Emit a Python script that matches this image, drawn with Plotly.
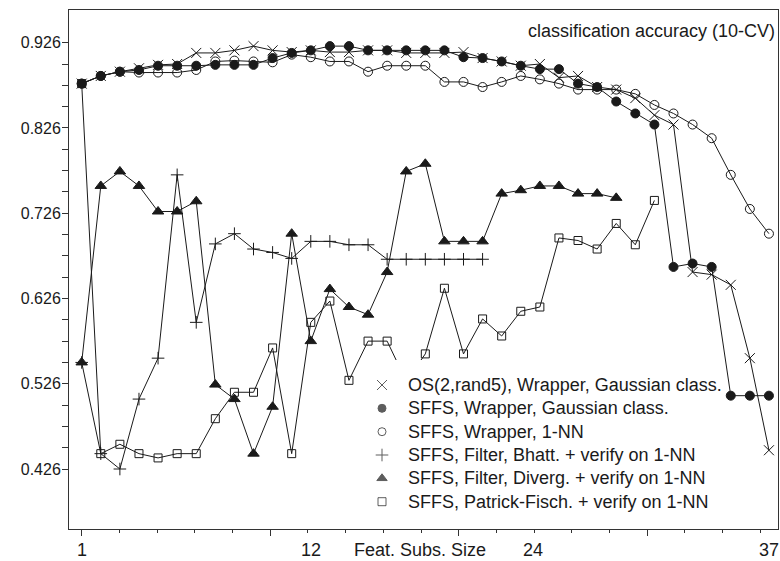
import plotly.graph_objects as go

# ---------------- data ----------------
feat_sizes = list(range(1, 38))

os_wrapper_gauss = [0.878, 0.887, 0.892, 0.896, 0.900, 0.901, 0.914, 0.914, 0.917, 0.922,
                    0.917, 0.915, 0.917, 0.915, 0.915, 0.917, 0.917, 0.914, 0.914, 0.914,
                    0.915, 0.908, 0.904, 0.899, 0.901, 0.885, 0.887, 0.874, 0.871, 0.861,
                    0.841, 0.830, 0.657, 0.654, 0.642, 0.556, 0.448]
sffs_wrapper_gauss = [0.878, 0.887, 0.892, 0.894, 0.899, 0.899, 0.899, 0.900, 0.900, 0.900,
                      0.908, 0.914, 0.917, 0.922, 0.922, 0.917, 0.917, 0.917, 0.917, 0.917,
                      0.909, 0.908, 0.904, 0.899, 0.895, 0.895, 0.878, 0.874, 0.857, 0.843,
                      0.830, 0.663, 0.667, 0.663, 0.512, 0.512, 0.512]
sffs_wrapper_1nn = [0.878, 0.887, 0.892, 0.891, 0.891, 0.891, 0.894, 0.904, 0.905, 0.904,
                    0.903, 0.912, 0.909, 0.904, 0.904, 0.892, 0.899, 0.899, 0.899, 0.880,
                    0.880, 0.874, 0.880, 0.887, 0.883, 0.878, 0.871, 0.871, 0.871, 0.866,
                    0.853, 0.843, 0.830, 0.814, 0.771, 0.731, 0.702]
sffs_filter_bhatt = [0.551, 0.444, 0.426, 0.508, 0.556, 0.771, 0.598, 0.690, 0.702, 0.684,
                     0.680, 0.673, 0.693, 0.693, 0.689, 0.689, 0.672, 0.672, 0.672, 0.672,
                     0.672, 0.672]
sffs_filter_diverg = [0.551, 0.758, 0.775, 0.758, 0.728, 0.728, 0.740, 0.525, 0.508, 0.444,
                      0.499, 0.702, 0.576, 0.637, 0.616, 0.607, 0.657, 0.775, 0.784, 0.693,
                      0.693, 0.693, 0.749, 0.753, 0.758, 0.758, 0.749, 0.749, 0.744]
sffs_patrick_fisch = [0.878, 0.444, 0.455, 0.444, 0.439, 0.444, 0.444, 0.485, 0.516, 0.516,
                      0.568, 0.444, 0.598, 0.623, 0.530, 0.576, 0.576, 0.529, 0.561, 0.638,
                      0.561, 0.602, 0.582, 0.611, 0.616, 0.697, 0.694, 0.684, 0.714, 0.689,
                      0.741]

series_names = [
    "OS(2,rand5), Wrapper, Gaussian class.",
    "SFFS, Wrapper, Gaussian class.",
    "SFFS, Wrapper, 1-NN",
    "SFFS, Filter, Bhatt. + verify on 1-NN",
    "SFFS, Filter, Diverg. + verify on 1-NN",
    "SFFS, Patrick-Fisch. + verify on 1-NN",
]
series_values = [os_wrapper_gauss, sffs_wrapper_gauss, sffs_wrapper_1nn,
                 sffs_filter_bhatt, sffs_filter_diverg, sffs_patrick_fisch]

x_tick_labels = ["1", "12", "24", "37"]
x_tick_label_pos = [1, 13, 24.65, 37]
y_tick_values = [round(0.426 + 0.025 * i, 3) for i in range(21)]
y_tick_labels = [f"{v:.3f}" if i % 4 == 0 else "" for i, v in enumerate(y_tick_values)]

title_text = "classification accuracy (10-CV)"
x_title = "Feat. Subs. Size"

# ---------------- styling ----------------
W, H = 780, 561
ML, MR, MT, MB = 69, 2, 10, 32
FONT = "Arial, 'Liberation Sans', sans-serif"
INK = "#1a1a1a"
symbols = ["x-thin", "circle", "circle-open", "cross-thin", "triangle-up", "square-open"]
msizes = [10, 9, 9, 9, 10, 8]
leg_sizes = [10, 8, 8, 9, 9, 8]

fig = go.Figure()

draw_order = [3, 4, 5, 2, 0, 1]
for i in draw_order:
    vals = series_values[i]
    fig.add_trace(go.Scatter(
        x=feat_sizes[:len(vals)], y=vals, name=series_names[i], mode="lines+markers",
        line=dict(color=INK, width=1),
        marker=dict(symbol=symbols[i], size=msizes[i], color=INK,
                    line=dict(color=INK, width=1)),
        showlegend=False,
    ))

# overlay axis in pixel units for the legend box
PX_L, PX_R, PX_T, PX_B = ML, W - MR, MT, H - MB
box_x = [370, 725, 725, 370, 370]
box_y = [360, 360, 515, 515, 360]
fig.add_trace(go.Scatter(x=box_x, y=box_y, xaxis="x2", yaxis="y2", mode="lines",
                         fill="toself", fillcolor="white", line=dict(width=0),
                         hoverinfo="skip", showlegend=False))
row_y = [385, 408.3, 431.7, 455, 478.3, 501.7]
fig.add_trace(go.Scatter(x=[382] * 6, y=row_y, xaxis="x2", yaxis="y2", mode="markers",
                         marker=dict(symbol=symbols, size=leg_sizes, color=INK,
                                     line=dict(color=INK, width=1)),
                         hoverinfo="skip", showlegend=False))


def py_to_paper(py):
    return (PX_B - py) / (PX_B - PX_T)


def px_to_paper(px):
    return (px - PX_L) / (PX_R - PX_L)


annotations = []
for name, yy in zip(series_names, row_y):
    annotations.append(dict(x=px_to_paper(406), y=py_to_paper(yy), xref="paper", yref="paper",
                            text=name, showarrow=False, xanchor="left", yanchor="middle",
                            font=dict(family=FONT, size=18, color=INK)))
annotations.append(dict(x=px_to_paper(777), y=py_to_paper(31), xref="paper", yref="paper",
                        text=title_text, showarrow=False, xanchor="right", yanchor="middle",
                        font=dict(family=FONT, size=18, color=INK)))
for lab, pos in zip(x_tick_labels, x_tick_label_pos):
    annotations.append(dict(x=pos, y=py_to_paper(550), xref="x", yref="paper", text=lab,
                            showarrow=False, xanchor="center", yanchor="middle",
                            font=dict(family=FONT, size=18, color=INK)))
annotations.append(dict(x=px_to_paper(420), y=py_to_paper(550), xref="paper", yref="paper",
                        text=x_title, showarrow=False, xanchor="center", yanchor="middle",
                        font=dict(family=FONT, size=18, color=INK)))

# x tick marks: spacing
step = 37.7 / 19.09
tick_pos = [1 + k * step for k in range(19)]
major = [tick_pos[k] for k in (0, 5, 10, 15)]
minor = [tick_pos[k] for k in range(19) if k not in (0, 5, 10, 15)]

px_per_x = 19.09
x0 = 1 - (81.7 - PX_L) / px_per_x
x1 = 1 + (PX_R - 81.7) / px_per_x
px_per_y = 852.6
y1 = 0.926 + (42.7 - PX_T) / px_per_y
y0 = 0.926 - (PX_B - 42.7) / px_per_y

fig.update_layout(
    width=W, height=H,
    margin=dict(l=ML, r=MR, t=MT, b=MB, pad=0),
    paper_bgcolor="white", plot_bgcolor="white",
    font=dict(family=FONT, color=INK),
    showlegend=False,
    annotations=annotations,
    xaxis=dict(range=[x0, x1], showgrid=False, zeroline=False, showline=True, mirror=True,
               linecolor="#333", linewidth=1, ticks="outside", tickvals=major, ticklen=6,
               tickcolor="#333", showticklabels=False,
               minor=dict(tickvals=minor, ticks="outside", ticklen=3, tickcolor="#333")),
    yaxis=dict(range=[y0, y1], showgrid=False, zeroline=False, showline=True, mirror=True,
               linecolor="#333", linewidth=1, ticks="outside", tickvals=y_tick_values,
               ticktext=y_tick_labels, ticklen=6, tickcolor="#333", ticklabelstandoff=-2,
               tickfont=dict(family=FONT, size=16, color=INK)),
    xaxis2=dict(overlaying="x", range=[PX_L, PX_R], visible=False, fixedrange=True),
    yaxis2=dict(overlaying="y", range=[PX_B, PX_T], visible=False, fixedrange=True),
)

fig.write_html("out.html")
